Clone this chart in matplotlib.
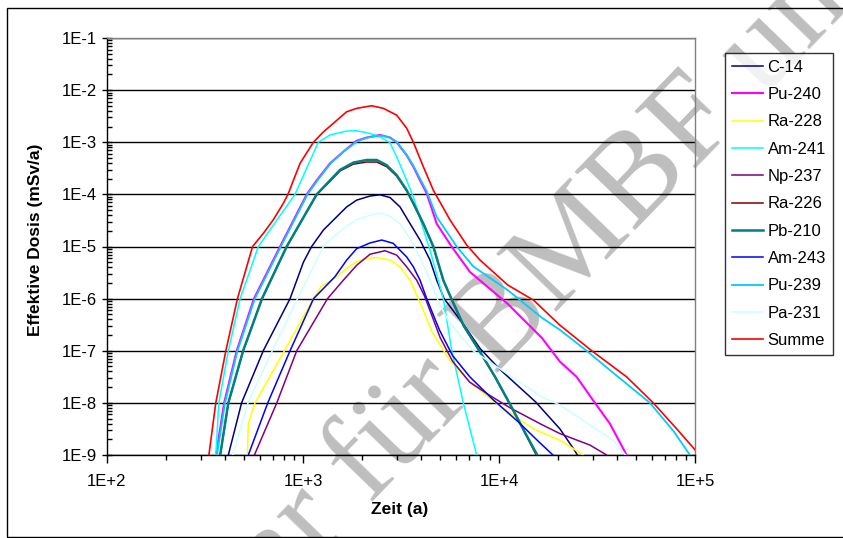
import matplotlib
matplotlib.use("Agg")
import matplotlib.pyplot as plt
from matplotlib.ticker import FixedLocator, FuncFormatter, LogLocator, NullFormatter
from matplotlib.patches import Rectangle
import numpy as np

plt.rcParams['font.family'] = ['Liberation Sans', 'DejaVu Sans']

# Zeit (a) / Effektive Dosis (mSv/a) per nuclide
t_c14 = [416, 486, 627, 859, 1005, 1107, 1271, 1486, 1671, 1879, 2198, 2472, 2780, 3126, 3516, 3954, 4446, 4808, 5248, 6546, 8017, 10116, 12303, 15346, 20464, 23988, 25119]
d_c14 = [1e-9, 1e-8, 1e-7, 1e-6, 5.01e-6, 1e-5, 2.07e-5, 3.72e-5, 5.75e-5, 7.76e-5, 9.3e-5, 9.8e-5, 8.7e-5, 5.75e-5, 2.75e-5, 1.33e-5, 5.5e-6, 2.26e-6, 1e-6, 3.31e-7, 1.1e-7, 4.37e-8, 2.24e-8, 1.05e-8, 3.16e-9, 1.32e-9, 1e-9]

t_pu240 = [360, 396, 459, 562, 764, 1045, 1175, 1374, 1607, 1879, 2113, 2472, 2780, 3006, 3381, 3656, 3954, 4276, 4808, 5728, 7112, 11092, 16596, 20464, 24889, 30200, 36813, 44771]
d_pu240 = [1e-9, 1e-8, 1e-7, 1e-6, 1e-5, 1e-4, 1.86e-4, 3.94e-4, 6.61e-4, 1.07e-3, 1.23e-3, 1.38e-3, 1.23e-3, 1e-3, 5.62e-4, 3.39e-4, 1.86e-4, 1.05e-4, 2.75e-5, 1e-5, 3.24e-6, 7.9e-7, 1.74e-7, 6.17e-8, 3.16e-8, 1.12e-8, 3.98e-9, 1e-9]

t_ra228 = [520, 526, 569, 804, 1130, 1236, 1486, 1671, 1879, 2113, 2377, 2780, 3126, 3516, 4074, 4539, 5559, 7079, 10116, 15031, 20464, 26915]
d_ra228 = [1e-9, 3.98e-9, 1e-8, 1e-7, 1e-6, 1.7e-6, 2.63e-6, 3.8e-6, 5.13e-6, 5.89e-6, 6.17e-6, 5.5e-6, 4.07e-6, 2.26e-6, 6.46e-7, 2.34e-7, 6.9e-8, 2.51e-8, 8.7e-9, 3.16e-9, 1.91e-9, 1e-9]

t_am241 = [359, 372, 416, 478, 592, 910, 1197, 1374, 1671, 1879, 2198, 2472, 2780, 3006, 3381, 3656, 3981, 4446, 5200, 5741, 6577, 7691]
d_am241 = [1e-9, 1e-8, 1e-7, 1e-6, 1e-5, 1e-4, 1e-3, 1.38e-3, 1.64e-3, 1.66e-3, 1.48e-3, 1.27e-3, 9.8e-4, 5.25e-4, 1.86e-4, 8.9e-5, 3.16e-5, 8.5e-6, 1e-6, 1e-7, 1e-8, 1e-9]

t_np237 = [565, 735, 929, 1334, 1607, 1879, 2198, 2618, 3006, 3381, 3802, 4169, 5012, 5794, 7079, 8913, 11482, 16596, 20464, 29107, 35400]
d_np237 = [1e-9, 1e-8, 1e-7, 1e-6, 2.26e-6, 4.37e-6, 7.1e-6, 8.3e-6, 6.84e-6, 4.07e-6, 2.26e-6, 1.12e-6, 1.78e-7, 6.3e-8, 2.51e-8, 1.41e-8, 7.9e-9, 3.8e-9, 2.57e-9, 1.55e-9, 1e-9]

t_ra226 = [378, 416, 495, 618, 826, 1175, 1374, 1545, 1807, 2113, 2377, 2673, 3006, 3381, 3656, 4111, 4624, 5200, 5715, 6607, 7943, 9550, 11482, 13490, 15488]
d_ra226 = [1e-9, 1e-8, 1e-7, 1e-6, 1e-5, 1e-4, 1.78e-4, 2.82e-4, 3.8e-4, 4.17e-4, 4.17e-4, 3.39e-4, 2.24e-4, 1.17e-4, 6.6e-5, 2.7e-5, 9.8e-6, 2.2e-6, 9.8e-7, 2.95e-7, 9.8e-8, 3.1e-8, 8.7e-9, 2.75e-9, 1e-9]

t_pb210 = [378, 416, 495, 618, 826, 1175, 1374, 1545, 1807, 2113, 2377, 2673, 3006, 3381, 3656, 4111, 4624, 5200, 5715, 6607, 7943, 9550, 11482, 13490, 15668]
d_pb210 = [1e-9, 1e-8, 1e-7, 1e-6, 1e-5, 1e-4, 1.86e-4, 2.95e-4, 4.07e-4, 4.57e-4, 4.57e-4, 3.63e-4, 2.34e-4, 1.2e-4, 6.76e-5, 2.75e-5, 1e-5, 2.26e-6, 1e-6, 3.02e-7, 1e-7, 3.16e-8, 8.9e-9, 2.82e-9, 1e-9]

t_am243 = [526, 661, 859, 1132, 1455, 1671, 1879, 2198, 2523, 2884, 3381, 3656, 3954, 4276, 4966, 5794, 7096, 9333, 12589, 15996, 18836]
d_am243 = [1e-9, 1e-8, 1e-7, 1e-6, 2.63e-6, 5.5e-6, 9.1e-6, 1.17e-5, 1.33e-5, 1.15e-5, 6.3e-6, 4.07e-6, 2.26e-6, 1e-6, 2.51e-7, 8.1e-8, 3.16e-8, 1.15e-8, 4.27e-9, 1.78e-9, 1e-9]

t_pu239 = [364, 400, 463, 568, 771, 1054, 1186, 1387, 1622, 1897, 2138, 2483, 2780, 3020, 3381, 3656, 3954, 4276, 4808, 6081, 7379, 11092, 16596, 20464, 27990, 37584, 58884, 77983, 94189]
d_pu239 = [1e-9, 1e-8, 1e-7, 1e-6, 1e-5, 1e-4, 1.86e-4, 3.98e-4, 6.76e-4, 1.05e-3, 1.23e-3, 1.35e-3, 1.23e-3, 1e-3, 5.75e-4, 3.55e-4, 2.0e-4, 1.15e-4, 3.72e-5, 1e-5, 4.17e-6, 1.45e-6, 4.27e-7, 2.51e-7, 1e-7, 3.98e-8, 1e-8, 2.82e-9, 1e-9]

t_pa231 = [438, 524, 697, 938, 1175, 1271, 1374, 1607, 1879, 2198, 2472, 2780, 3126, 3516, 3954, 4446, 4966, 5559, 7379, 11092, 16596, 20464, 38282, 44157]
d_pa231 = [1e-9, 1e-8, 1e-7, 1e-6, 5.5e-6, 1e-5, 1.33e-5, 2.24e-5, 3.24e-5, 3.98e-5, 4.37e-5, 3.8e-5, 2.75e-5, 1.41e-5, 6.3e-6, 2.26e-6, 7.9e-7, 3.55e-7, 1e-7, 3.55e-8, 1.29e-8, 9.1e-9, 1.91e-9, 1e-9]

t_summe = [331, 359, 404, 463, 553, 627, 705, 794, 838, 966, 1130, 1271, 1429, 1671, 1879, 2239, 2570, 3006, 3381, 3656, 4111, 4624, 5623, 6839, 7998, 11092, 15031, 20464, 29717, 44771, 61235, 80724, 100000]
d_summe = [1e-9, 1e-8, 1e-7, 1e-6, 1e-5, 1.78e-5, 3.24e-5, 6.76e-5, 1e-4, 3.94e-4, 1e-3, 1.58e-3, 2.31e-3, 3.85e-3, 4.47e-3, 5.01e-3, 4.47e-3, 3.31e-3, 1.86e-3, 1e-3, 3.39e-4, 1.2e-4, 3.24e-5, 1.07e-5, 5.5e-6, 1.82e-6, 9.3e-7, 3.09e-7, 1e-7, 3.16e-8, 1e-8, 3.16e-9, 1.26e-9]

names = ['C-14', 'Pu-240', 'Ra-228', 'Am-241', 'Np-237', 'Ra-226', 'Pb-210', 'Am-243', 'Pu-239', 'Pa-231', 'Summe']
times = [t_c14, t_pu240, t_ra228, t_am241, t_np237, t_ra226, t_pb210, t_am243, t_pu239, t_pa231, t_summe]
doses = [d_c14, d_pu240, d_ra228, d_am241, d_np237, d_ra226, d_pb210, d_am243, d_pu239, d_pa231, d_summe]
colors = ['#000080', '#FF00FF', '#FFFF00', '#00FFFF', '#800080', '#800000', '#008080', '#0000FF', '#00CCFF', '#CCFFFF', '#FF0000']
widths = [1.1, 1.5, 1.1, 1.1, 1.1, 1.1, 1.8, 1.1, 1.3, 1.1, 1.2]

xticks = [1e2, 1e3, 1e4, 1e5]
yticks = [1e-9, 1e-8, 1e-7, 1e-6, 1e-5, 1e-4, 1e-3, 1e-2, 1e-1]

fig = plt.figure(figsize=(8.43, 5.38), dpi=100)
ax = fig.add_axes([107/843, 1-455/538, 588/843, 417/538])
ax.set_facecolor('none')

for t, d, n, c, w in zip(times, doses, names, colors, widths):
    ax.plot(t, d, color=c, lw=w, label=n, zorder=3)

ax.set_xscale('log')
ax.set_yscale('log')
ax.set_xlim(1e2, 1e5)
ax.set_ylim(1e-9, 1e-1)

ax.xaxis.set_major_locator(FixedLocator(xticks))
ax.yaxis.set_major_locator(FixedLocator(yticks))
ax.xaxis.set_minor_locator(LogLocator(base=10, subs=np.arange(2, 10)))
ax.yaxis.set_minor_locator(LogLocator(base=10, subs=np.arange(2, 10)))
ax.xaxis.set_minor_formatter(NullFormatter())
ax.yaxis.set_minor_formatter(NullFormatter())
ax.xaxis.set_major_formatter(FuncFormatter(lambda v, p: '1E+%d' % round(np.log10(v))))
ax.yaxis.set_major_formatter(FuncFormatter(lambda v, p: '1E-%d' % round(-np.log10(v))))

ax.tick_params(axis='x', which='major', direction='out', length=6, width=1, labelsize=12, pad=8)
ax.tick_params(axis='x', which='minor', direction='out', length=3.5, width=1)
ax.tick_params(axis='y', which='major', direction='inout', length=7, width=1, labelsize=12, pad=4)
ax.tick_params(axis='y', which='minor', direction='in', length=3.5, width=1)

ax.grid(True, which='major', axis='y', color='black', lw=1)
ax.spines['left'].set_color('black')
ax.spines['bottom'].set_color('black')
ax.spines['top'].set_color('#808080')
ax.spines['right'].set_color('#808080')
for s in ax.spines.values():
    s.set_linewidth(1)

ax.set_xlabel('Zeit (a)', fontsize=12.5, fontweight='bold')
ax.set_ylabel('Effektive Dosis (mSv/a)', fontsize=12.5, fontweight='bold')
ax.xaxis.set_label_coords(0.498, -0.113)
ax.yaxis.set_label_coords(-0.108, 0.516)

leg = fig.legend(loc='upper left', bbox_to_anchor=(725/843, 1-53/538), borderaxespad=0,
                 fontsize=12, frameon=True, fancybox=False, edgecolor='black',
                 handlelength=1.9, handletextpad=0.25, labelspacing=0.74, borderpad=0.4)
leg.get_frame().set_linewidth(1)

# watermark
fig.text(495/843, 1-375/538, 'ar für ', fontsize=92, family='Liberation Serif', color='#BEBEBE',
         rotation=46, rotation_mode='anchor', ha='right', va='baseline', zorder=-1)
fig.text(495/843, 1-375/538, 'BMBF und', fontsize=92, family='Liberation Serif', color='#BEBEBE',
         rotation=46, rotation_mode='anchor', ha='left', va='baseline', zorder=-1)

fig.patches.append(Rectangle((7/843, 1/538), 1.0, 529/538, transform=fig.transFigure,
                             fill=False, edgecolor='black', lw=1))

fig.savefig('out.png', dpi=100)
